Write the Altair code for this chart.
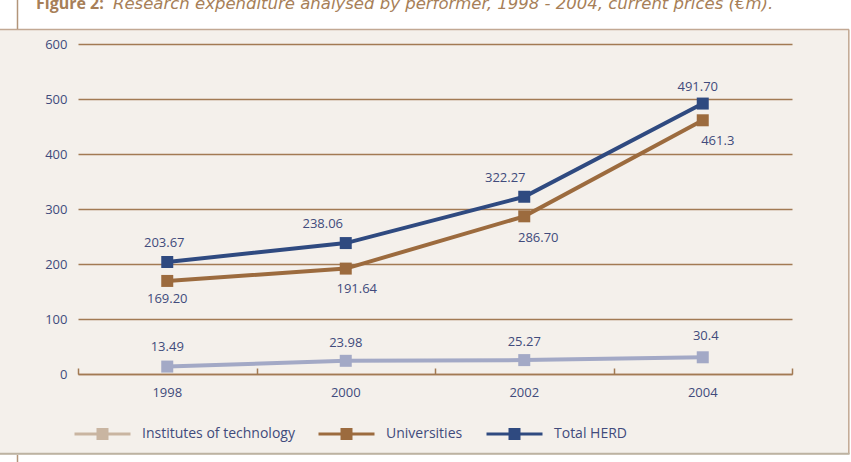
import altair as alt
import pandas as pd

# ---- data -------------------------------------------------------------
years = ["1998", "2000", "2002", "2004"]
series_names = ["Institutes of technology", "Universities", "Total HERD"]

institutes = [13.49, 23.98, 25.27, 30.4]
universities = [169.20, 191.64, 286.70, 461.3]
total_herd = [203.67, 238.06, 322.27, 491.70]

institutes_labels = ["13.49", "23.98", "25.27", "30.4"]
universities_labels = ["169.20", "191.64", "286.70", "461.3"]
total_herd_labels = ["203.67", "238.06", "322.27", "491.70"]

y_ticks = [0, 100, 200, 300, 400, 500, 600]

rows = []
for name, vals, labs in zip(
    series_names,
    [institutes, universities, total_herd],
    [institutes_labels, universities_labels, total_herd_labels],
):
    for yr, v, lab in zip(years, vals, labs):
        rows.append({"series": name, "year": yr, "value": v, "label": lab})
df = pd.DataFrame(rows)

# ---- styling ----------------------------------------------------------
FONT = "Open Sans"
NAVY_TEXT = "#414b7c"
BROWN = "#a27a53"
PANEL = "#f4f0eb"
TITLE_COLOR = "#a77f58"
LINE_COLORS = ["#a3a9c6", "#9c6b3e", "#2f4a80"]
LEGEND_COLORS = ["#c9b5a1", "#9c6b3e", "#2f4a80"]

W, H = 714, 330

x_scale = alt.Scale(type="band", domain=years, paddingInner=0, paddingOuter=0)
y_scale = alt.Scale(domain=[0, 600], nice=False)

base = alt.Chart(df)

# legend key: a horizontal stroke with a solid square built from short strokes
LEGEND_SYMBOL = (
    "M-1,0H1"
    "M-0.214,-0.161H0.214"
    "M-0.214,-0.054H0.214"
    "M-0.214,0.054H0.214"
    "M-0.214,0.161H0.214"
)

# the shared y axis is configured here; other layers leave theirs unset
y_enc = alt.Y(
    "value:Q",
    scale=y_scale,
    axis=alt.Axis(
        values=y_ticks,
        title=None,
        grid=True,
        gridColor=BROWN,
        gridWidth=1.5,
        ticks=False,
        domain=False,
        labelPadding=11,
        labelFont=FONT,
        labelFontSize=13,
        labelColor=NAVY_TEXT,
    ),
)
y_plain = alt.Y("value:Q", scale=y_scale)

lines = base.mark_line(
    strokeWidth=4,
    point=alt.OverlayMarkDef(shape="square", size=144, filled=True, opacity=1),
).encode(
    x=alt.X(
        "year:N",
        scale=x_scale,
        bandPosition=0.5,
        axis=alt.Axis(
            title=None,
            labelAngle=0,
            ticks=False,
            domain=True,
            domainColor=BROWN,
            domainWidth=1.5,
            grid=False,
            labelPadding=12,
            labelFont=FONT,
            labelFontSize=13,
            labelColor=NAVY_TEXT,
        ),
    ),
    y=y_enc,
    color=alt.Color(
        "series:N",
        scale=alt.Scale(domain=series_names, range=LINE_COLORS),
        legend=None,
    ),
)

# legend carrier: draws nothing itself, only supplies the key below the plot
legend_keys = base.mark_point(filled=False, opacity=0, size=0).encode(
    x=alt.X("year:N", scale=x_scale, bandPosition=0.5, axis=None),
    y=y_plain,
    color=alt.Color(
        "series:N",
        scale=alt.Scale(domain=series_names, range=LEGEND_COLORS),
        legend=alt.Legend(
            title=None,
            orient="none",
            legendX=-5,
            legendY=360,
            direction="horizontal",
            symbolType=LEGEND_SYMBOL,
            symbolSize=3136,
            symbolStrokeWidth=3,
            symbolOpacity=1,
            labelFont=FONT,
            labelFontSize=14,
            labelColor=NAVY_TEXT,
            labelOffset=10,
            columnPadding=17,
            padding=0,
        ),
    ),
)

# upward category ticks at the band boundaries along the baseline
band_ticks = base.mark_point(opacity=0).encode(
    x=alt.X(
        "year:N",
        scale=x_scale,
        bandPosition=0.5,
        axis=alt.Axis(
            orient="top",
            offset=-H,
            title=None,
            labels=False,
            domain=False,
            grid=False,
            ticks=True,
            tickBand="extent",
            tickSize=6,
            tickColor=BROWN,
            tickWidth=1.5,
        ),
    ),
    y=y_plain,
)

# value labels, each nudged off its marker
label_offsets = {
    ("Institutes of technology", "1998"): (0, -20),
    ("Institutes of technology", "2000"): (0, -18),
    ("Institutes of technology", "2002"): (0, -18),
    ("Institutes of technology", "2004"): (3, -21),
    ("Universities", "1998"): (0, 18),
    ("Universities", "2000"): (11, 20),
    ("Universities", "2002"): (14, 22),
    ("Universities", "2004"): (15, 21),
    ("Total HERD", "1998"): (-3, -19),
    ("Total HERD", "2000"): (-23, -19),
    ("Total HERD", "2002"): (-19, -19),
    ("Total HERD", "2004"): (-5, -17),
}

label_layers = []
for (name, yr), (dx, dy) in label_offsets.items():
    label_layers.append(
        base.transform_filter((alt.datum.series == name) & (alt.datum.year == yr))
        .mark_text(dx=dx, dy=dy, font=FONT, fontSize=13, color=NAVY_TEXT)
        .encode(
            x=alt.X("year:N", scale=x_scale, bandPosition=0.5, axis=None),
            y=y_plain,
            text="label:N",
        )
    )

# ---- page frame: white strip above the panel, borders, caption -------
one = alt.Chart(pd.DataFrame({"k": [0]}))

top_strip = one.mark_rect(fill="white").encode(
    x=alt.value(-78), x2=alt.value(773), y=alt.value(-44), y2=alt.value(-15)
)
bottom_strip = one.mark_rect(fill="white").encode(
    x=alt.value(-78), x2=alt.value(773), y=alt.value(411), y2=alt.value(418)
)
right_strip = one.mark_rect(fill="white").encode(
    x=alt.value(771.5), x2=alt.value(773), y=alt.value(-44), y2=alt.value(418)
)
top_border = one.mark_rule(color="#c2a893", strokeWidth=1.5).encode(
    x=alt.value(-78), x2=alt.value(771), y=alt.value(-14.5)
)
right_border = one.mark_rule(color="#c2a893", strokeWidth=1.5).encode(
    x=alt.value(770.8), y=alt.value(-14.5), y2=alt.value(410)
)
bottom_border = one.mark_rule(color="#bdb3a2", strokeWidth=2).encode(
    x=alt.value(-78), x2=alt.value(771.5), y=alt.value(409.8)
)
left_mark_top = one.mark_rule(color="#b3957a", strokeWidth=1.5).encode(
    x=alt.value(-60.5), y=alt.value(-44), y2=alt.value(-15)
)
left_mark_bottom = one.mark_rule(color="#b3957a", strokeWidth=1.5).encode(
    x=alt.value(-60.5), y=alt.value(411), y2=alt.value(418)
)

caption_bold = one.mark_text(
    align="left", baseline="alphabetic", font=FONT, fontSize=16,
    fontWeight="bold", color=TITLE_COLOR,
).encode(x=alt.value(-42), y=alt.value(-35.5), text=alt.value("Figure 2:"))

caption_italic = one.mark_text(
    align="left", baseline="alphabetic", font="DejaVu Sans", fontSize=16.5,
    fontStyle="italic", color=TITLE_COLOR,
).encode(
    x=alt.value(35),
    y=alt.value(-35.5),
    text=alt.value(
        "Research expenditure analysed by performer, 1998 - 2004, current prices (€m)."
    ),
)

chart = (
    alt.layer(
        top_strip, bottom_strip, right_strip,
        top_border, right_border, bottom_border,
        left_mark_top, left_mark_bottom,
        caption_bold, caption_italic,
        lines, band_ticks, legend_keys, *label_layers,
    )
    .resolve_axis(x="independent")
    .resolve_scale(color="independent")
    .properties(
        width=W,
        height=H,
        background=PANEL,
        padding={"left": 78, "top": 44, "right": 59, "bottom": 88},
        autosize=alt.AutoSizeParams(type="none"),
    )
    .configure_view(stroke=None)
)

chart.save("out.html", embed_options={"renderer": "svg", "actions": False})
